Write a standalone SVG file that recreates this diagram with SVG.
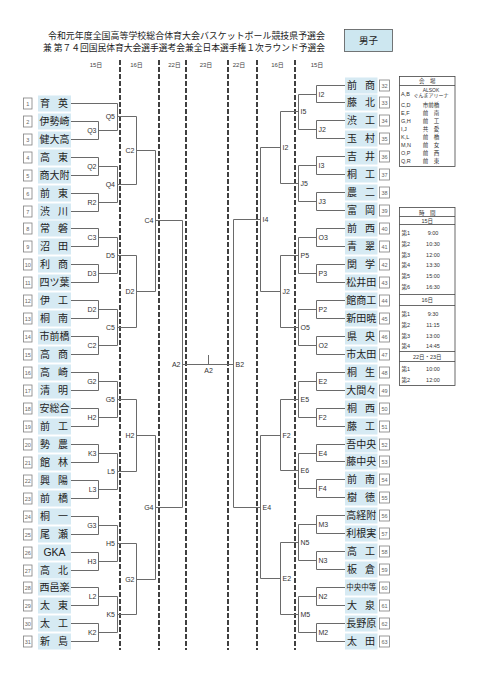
<svg xmlns="http://www.w3.org/2000/svg" width="481" height="680" viewBox="0 0 481 680">
<style>
.bg{fill:#fff}
.nb{fill:#fff;stroke:#808080;stroke-width:0.8}
.nt{font-family:"Liberation Sans",Arial,sans-serif;font-size:5.5px;fill:#666;text-anchor:middle}
.cl{fill:#d6eaf3}
.nm{font-family:"Noto Sans CJK JP","Noto Sans CJK SC",sans-serif;font-size:10px;fill:#222}
.n3{text-anchor:middle}
.ln{stroke:#6a6a6a;stroke-width:1;fill:none}
.dl{stroke:#111;stroke-width:1.6;stroke-dasharray:5 2;fill:none}
.lb{font-family:"Liberation Sans",Arial,sans-serif;font-size:7px;fill:#333}
.le{text-anchor:end}
.dt{font-family:"Liberation Sans","Noto Sans CJK JP",sans-serif;font-size:6px;fill:#444;text-anchor:middle}
.ti{font-family:"Noto Sans CJK JP","Noto Sans CJK SC",sans-serif;font-size:9px;fill:#1a1a1a}
.tb{fill:#fff;stroke:#444;stroke-width:0.8}
.tl{stroke:#444;stroke-width:0.8}
.tx{font-family:"Liberation Sans","Noto Sans CJK JP",sans-serif;font-size:5.5px;fill:#333}
.tc{text-anchor:middle}
</style>
<rect class="bg" x="0" y="0" width="481" height="680"/>

<g id="title">
<text class="ti" x="48" y="38.5" textLength="277" lengthAdjust="spacingAndGlyphs">令和元年度全国高等学校総合体育大会バスケットボール競技県予選会</text>
<text class="ti" x="43" y="51" textLength="282" lengthAdjust="spacingAndGlyphs">兼 第７４回国民体育大会選手選考会兼全日本選手権１次ラウンド予選会</text>
</g>
<g id="boys">
<rect x="344.5" y="29.5" width="48" height="22" fill="#cde7f0" stroke="#555" stroke-width="0.8"/>
<text class="nm" x="368.5" y="44" text-anchor="middle" style="font-size:9.5px">男子</text>
</g>

<g id="dates">
<text class="dt" x="96" y="67">15日</text>
<text class="dt" x="136.5" y="67">16日</text>
<text class="dt" x="174.5" y="67">22日</text>
<text class="dt" x="206" y="67">23日</text>
<text class="dt" x="239" y="67">22日</text>
<text class="dt" x="277.5" y="67">16日</text>
<text class="dt" x="317" y="67">15日</text>
</g>

<g id="day-dividers">
<path class="dl" d="M120 60V650M159 60V650M186 60V650M228 60V650M257 60V650M295 60V650"/>
</g>

<g id="connectors">
<path class="ln" d="M71 103.5H117.5M71 121.5H98.5V139.5H71M98.5 130.5H117.5M117.5 103.5V130.5M117.5 116.5H136.5M71 157.5H98.5V175.5H71M98.5 166.5H117.5M71 193.5H98.5V211.5H71M98.5 202.5H117.5M117.5 166.5V202.5M117.5 184.5H136.5M136.5 116.5V184.5M136.5 150.5H155.5"/>
<path class="ln" d="M71 228.5H98.5V246.5H71M98.5 237.5H117.5M71 264.5H98.5V282.5H71M98.5 273.5H117.5M117.5 237.5V273.5M117.5 255.5H136.5M71 300.5H98.5V318.5H71M98.5 309.5H117.5M71 336.5H98.5V354.5H71M98.5 345.5H117.5M117.5 309.5V345.5M117.5 327.5H136.5M136.5 255.5V327.5M136.5 291.5H155.5M155.5 150.5V291.5M155.5 220.5H182.5"/>
<path class="ln" d="M71 372.5H98.5V390.5H71M98.5 381.5H117.5M71 408.5H98.5V426.5H71M98.5 417.5H117.5M117.5 381.5V417.5M117.5 399.5H136.5M71 444.5H98.5V462.5H71M98.5 453.5H117.5M71 480.5H98.5V498.5H71M98.5 489.5H117.5M117.5 453.5V489.5M117.5 471.5H136.5M136.5 399.5V471.5M136.5 435.5H155.5"/>
<path class="ln" d="M71 516.5H98.5V534.5H71M98.5 525.5H117.5M71 552.5H98.5V570.5H71M98.5 561.5H117.5M117.5 525.5V561.5M117.5 543.5H136.5M71 587.5H98.5V605.5H71M98.5 596.5H117.5M71 623.5H98.5V641.5H71M98.5 632.5H117.5M117.5 596.5V632.5M117.5 614.5H136.5M136.5 543.5V614.5M136.5 579.5H155.5M155.5 435.5V579.5M155.5 507.5H182.5"/>
<path class="ln" d="M182.5 220.5V507.5M182.5 364.5H233.5M208.5 355V364.5M233.5 219.5V507.5"/>
<path class="ln" d="M345 85.5H316.5V102.5H345M316.5 94.5H298.5M345 120.5H316.5V138.5H345M316.5 129.5H298.5M298.5 94.5V129.5M298.5 111.5H280.5M345 156.5H316.5V174.5H345M316.5 165.5H298.5M345 192.5H316.5V210.5H345M316.5 201.5H298.5M298.5 165.5V201.5M298.5 183.5H280.5M280.5 111.5V183.5M280.5 147.5H260.5"/>
<path class="ln" d="M345 228.5H316.5V246.5H345M316.5 237.5H298.5M345 264.5H316.5V282.5H345M316.5 273.5H298.5M298.5 237.5V273.5M298.5 255.5H280.5M345 300.5H316.5V318.5H345M316.5 309.5H298.5M345 336.5H316.5V354.5H345M316.5 345.5H298.5M298.5 309.5V345.5M298.5 327.5H280.5M280.5 255.5V327.5M280.5 291.5H260.5M260.5 147.5V291.5M260.5 219.5H233.5"/>
<path class="ln" d="M345 372.5H316.5V390.5H345M316.5 381.5H298.5M345 408.5H316.5V426.5H345M316.5 417.5H298.5M298.5 381.5V417.5M298.5 399.5H280.5M345 444.5H316.5V461.5H345M316.5 453.5H298.5M345 479.5H316.5V497.5H345M316.5 488.5H298.5M298.5 453.5V488.5M298.5 470.5H280.5M280.5 399.5V470.5M280.5 435.5H260.5"/>
<path class="ln" d="M345 515.5H316.5V533.5H345M316.5 524.5H298.5M345 551.5H316.5V569.5H345M316.5 560.5H298.5M298.5 524.5V560.5M298.5 542.5H280.5M345 587.5H316.5V605.5H345M316.5 596.5H298.5M345 623.5H316.5V641.5H345M316.5 632.5H298.5M298.5 596.5V632.5M298.5 614.5H280.5M280.5 542.5V614.5M280.5 578.5H260.5M260.5 435.5V578.5M260.5 507.5H233.5"/>
</g>

<g id="match-labels">
<text class="lb le" x="115" y="119">Q5</text>
<text class="lb le" x="96.5" y="133">Q3</text>
<text class="lb le" x="96.5" y="169">Q2</text>
<text class="lb le" x="115" y="187">Q4</text>
<text class="lb le" x="96.5" y="205">R2</text>
<text class="lb le" x="134.5" y="153">C2</text>
<text class="lb le" x="96.5" y="240">C3</text>
<text class="lb le" x="115" y="258">D5</text>
<text class="lb le" x="96.5" y="276">D3</text>
<text class="lb le" x="134.5" y="294">D2</text>
<text class="lb le" x="96.5" y="312">D2</text>
<text class="lb le" x="115" y="330">C5</text>
<text class="lb le" x="96.5" y="348">C2</text>
<text class="lb le" x="153.5" y="223">C4</text>
<text class="lb le" x="96.5" y="384">G2</text>
<text class="lb le" x="115" y="402">G5</text>
<text class="lb le" x="96.5" y="420">H2</text>
<text class="lb le" x="134.5" y="438">H2</text>
<text class="lb le" x="96.5" y="456">K3</text>
<text class="lb le" x="115" y="474">L5</text>
<text class="lb le" x="96.5" y="492">L3</text>
<text class="lb le" x="153.5" y="510">G4</text>
<text class="lb le" x="96.5" y="528">G3</text>
<text class="lb le" x="115" y="546">H5</text>
<text class="lb le" x="96.5" y="564">H3</text>
<text class="lb le" x="134.5" y="582">G2</text>
<text class="lb le" x="96.5" y="599">L2</text>
<text class="lb le" x="115" y="617">K5</text>
<text class="lb le" x="96.5" y="635">K2</text>
<text class="lb le" x="180.5" y="367">A2</text>
<text class="lb" x="208.5" y="372.5" text-anchor="middle">A2</text>
<text class="lb" x="235.5" y="367">B2</text>
<text class="lb" x="318.5" y="97">I2</text>
<text class="lb" x="300.5" y="114">I5</text>
<text class="lb" x="318.5" y="132">J2</text>
<text class="lb" x="282.5" y="150">I2</text>
<text class="lb" x="318.5" y="168">I3</text>
<text class="lb" x="300.5" y="186">J5</text>
<text class="lb" x="318.5" y="204">J3</text>
<text class="lb" x="262.5" y="222">I4</text>
<text class="lb" x="318.5" y="240">O3</text>
<text class="lb" x="300.5" y="258">P5</text>
<text class="lb" x="318.5" y="276">P3</text>
<text class="lb" x="282.5" y="294">J2</text>
<text class="lb" x="318.5" y="312">P2</text>
<text class="lb" x="300.5" y="330">O5</text>
<text class="lb" x="318.5" y="348">O2</text>
<text class="lb" x="318.5" y="384">E2</text>
<text class="lb" x="300.5" y="402">E5</text>
<text class="lb" x="318.5" y="420">F2</text>
<text class="lb" x="282.5" y="438">F2</text>
<text class="lb" x="318.5" y="456">E4</text>
<text class="lb" x="300.5" y="473">E6</text>
<text class="lb" x="318.5" y="491">F4</text>
<text class="lb" x="262.5" y="510">E4</text>
<text class="lb" x="318.5" y="527">M3</text>
<text class="lb" x="300.5" y="545">N5</text>
<text class="lb" x="318.5" y="563">N3</text>
<text class="lb" x="282.5" y="581">E2</text>
<text class="lb" x="318.5" y="599">N2</text>
<text class="lb" x="300.5" y="617">M5</text>
<text class="lb" x="318.5" y="635">M2</text>
</g>

<g id="t1" transform="translate(0,103.5)"><rect class="nb" x="23.5" y="-5.5" width="8.5" height="11"/><text class="nt" x="27.75" y="2">1</text><rect class="cl" x="38" y="-8" width="33" height="16"/><text class="nm" x="40 58" y="3.5">育英</text></g>
<g id="t2" transform="translate(0,121.5)"><rect class="nb" x="23.5" y="-5.5" width="8.5" height="11"/><text class="nt" x="27.75" y="2">2</text><rect class="cl" x="38" y="-8" width="33" height="16"/><text class="nm n3" x="54.5" y="3.5">伊勢崎</text></g>
<g id="t3" transform="translate(0,139.5)"><rect class="nb" x="23.5" y="-5.5" width="8.5" height="11"/><text class="nt" x="27.75" y="2">3</text><rect class="cl" x="38" y="-8" width="33" height="16"/><text class="nm n3" x="54.5" y="3.5">健大高</text></g>
<g id="t4" transform="translate(0,157.5)"><rect class="nb" x="23.5" y="-5.5" width="8.5" height="11"/><text class="nt" x="27.75" y="2">4</text><rect class="cl" x="38" y="-8" width="33" height="16"/><text class="nm" x="40 58" y="3.5">高東</text></g>
<g id="t5" transform="translate(0,175.5)"><rect class="nb" x="23.5" y="-5.5" width="8.5" height="11"/><text class="nt" x="27.75" y="2">5</text><rect class="cl" x="38" y="-8" width="33" height="16"/><text class="nm n3" x="54.5" y="3.5">商大附</text></g>
<g id="t6" transform="translate(0,193.5)"><rect class="nb" x="23.5" y="-5.5" width="8.5" height="11"/><text class="nt" x="27.75" y="2">6</text><rect class="cl" x="38" y="-8" width="33" height="16"/><text class="nm" x="40 58" y="3.5">前東</text></g>
<g id="t7" transform="translate(0,211.5)"><rect class="nb" x="23.5" y="-5.5" width="8.5" height="11"/><text class="nt" x="27.75" y="2">7</text><rect class="cl" x="38" y="-8" width="33" height="16"/><text class="nm" x="40 58" y="3.5">渋川</text></g>
<g id="t8" transform="translate(0,228.5)"><rect class="nb" x="23.5" y="-5.5" width="8.5" height="11"/><text class="nt" x="27.75" y="2">8</text><rect class="cl" x="38" y="-8" width="33" height="16"/><text class="nm" x="40 58" y="3.5">常磐</text></g>
<g id="t9" transform="translate(0,246.5)"><rect class="nb" x="23.5" y="-5.5" width="8.5" height="11"/><text class="nt" x="27.75" y="2">9</text><rect class="cl" x="38" y="-8" width="33" height="16"/><text class="nm" x="40 58" y="3.5">沼田</text></g>
<g id="t10" transform="translate(0,264.5)"><rect class="nb" x="23.5" y="-5.5" width="8.5" height="11"/><text class="nt" x="27.75" y="2">10</text><rect class="cl" x="38" y="-8" width="33" height="16"/><text class="nm" x="40 58" y="3.5">利商</text></g>
<g id="t11" transform="translate(0,282.5)"><rect class="nb" x="23.5" y="-5.5" width="8.5" height="11"/><text class="nt" x="27.75" y="2">11</text><rect class="cl" x="38" y="-8" width="33" height="16"/><text class="nm n3" x="54.5" y="3.5">四ツ葉</text></g>
<g id="t12" transform="translate(0,300.5)"><rect class="nb" x="23.5" y="-5.5" width="8.5" height="11"/><text class="nt" x="27.75" y="2">12</text><rect class="cl" x="38" y="-8" width="33" height="16"/><text class="nm" x="40 58" y="3.5">伊工</text></g>
<g id="t13" transform="translate(0,318.5)"><rect class="nb" x="23.5" y="-5.5" width="8.5" height="11"/><text class="nt" x="27.75" y="2">13</text><rect class="cl" x="38" y="-8" width="33" height="16"/><text class="nm" x="40 58" y="3.5">桐南</text></g>
<g id="t14" transform="translate(0,336.5)"><rect class="nb" x="23.5" y="-5.5" width="8.5" height="11"/><text class="nt" x="27.75" y="2">14</text><rect class="cl" x="38" y="-8" width="33" height="16"/><text class="nm n3" x="54.5" y="3.5">市前橋</text></g>
<g id="t15" transform="translate(0,354.5)"><rect class="nb" x="23.5" y="-5.5" width="8.5" height="11"/><text class="nt" x="27.75" y="2">15</text><rect class="cl" x="38" y="-8" width="33" height="16"/><text class="nm" x="40 58" y="3.5">高商</text></g>
<g id="t16" transform="translate(0,372.5)"><rect class="nb" x="23.5" y="-5.5" width="8.5" height="11"/><text class="nt" x="27.75" y="2">16</text><rect class="cl" x="38" y="-8" width="33" height="16"/><text class="nm" x="40 58" y="3.5">高崎</text></g>
<g id="t17" transform="translate(0,390.5)"><rect class="nb" x="23.5" y="-5.5" width="8.5" height="11"/><text class="nt" x="27.75" y="2">17</text><rect class="cl" x="38" y="-8" width="33" height="16"/><text class="nm" x="40 58" y="3.5">清明</text></g>
<g id="t18" transform="translate(0,408.5)"><rect class="nb" x="23.5" y="-5.5" width="8.5" height="11"/><text class="nt" x="27.75" y="2">18</text><rect class="cl" x="38" y="-8" width="33" height="16"/><text class="nm n3" x="54.5" y="3.5">安総合</text></g>
<g id="t19" transform="translate(0,426.5)"><rect class="nb" x="23.5" y="-5.5" width="8.5" height="11"/><text class="nt" x="27.75" y="2">19</text><rect class="cl" x="38" y="-8" width="33" height="16"/><text class="nm" x="40 58" y="3.5">前工</text></g>
<g id="t20" transform="translate(0,444.5)"><rect class="nb" x="23.5" y="-5.5" width="8.5" height="11"/><text class="nt" x="27.75" y="2">20</text><rect class="cl" x="38" y="-8" width="33" height="16"/><text class="nm" x="40 58" y="3.5">勢農</text></g>
<g id="t21" transform="translate(0,462.5)"><rect class="nb" x="23.5" y="-5.5" width="8.5" height="11"/><text class="nt" x="27.75" y="2">21</text><rect class="cl" x="38" y="-8" width="33" height="16"/><text class="nm" x="40 58" y="3.5">館林</text></g>
<g id="t22" transform="translate(0,480.5)"><rect class="nb" x="23.5" y="-5.5" width="8.5" height="11"/><text class="nt" x="27.75" y="2">22</text><rect class="cl" x="38" y="-8" width="33" height="16"/><text class="nm" x="40 58" y="3.5">興陽</text></g>
<g id="t23" transform="translate(0,498.5)"><rect class="nb" x="23.5" y="-5.5" width="8.5" height="11"/><text class="nt" x="27.75" y="2">23</text><rect class="cl" x="38" y="-8" width="33" height="16"/><text class="nm" x="40 58" y="3.5">前橋</text></g>
<g id="t24" transform="translate(0,516.5)"><rect class="nb" x="23.5" y="-5.5" width="8.5" height="11"/><text class="nt" x="27.75" y="2">24</text><rect class="cl" x="38" y="-8" width="33" height="16"/><text class="nm" x="40 58" y="3.5">桐一</text></g>
<g id="t25" transform="translate(0,534.5)"><rect class="nb" x="23.5" y="-5.5" width="8.5" height="11"/><text class="nt" x="27.75" y="2">25</text><rect class="cl" x="38" y="-8" width="33" height="16"/><text class="nm" x="40 58" y="3.5">尾瀬</text></g>
<g id="t26" transform="translate(0,552.5)"><rect class="nb" x="23.5" y="-5.5" width="8.5" height="11"/><text class="nt" x="27.75" y="2">26</text><rect class="cl" x="38" y="-8" width="33" height="16"/><text class="nm n3" x="54.5" y="3.8" style="font-family:'Liberation Sans',Arial,sans-serif;font-size:10.5px">GKA</text></g>
<g id="t27" transform="translate(0,570.5)"><rect class="nb" x="23.5" y="-5.5" width="8.5" height="11"/><text class="nt" x="27.75" y="2">27</text><rect class="cl" x="38" y="-8" width="33" height="16"/><text class="nm" x="40 58" y="3.5">高北</text></g>
<g id="t28" transform="translate(0,587.5)"><rect class="nb" x="23.5" y="-5.5" width="8.5" height="11"/><text class="nt" x="27.75" y="2">28</text><rect class="cl" x="38" y="-8" width="33" height="16"/><text class="nm n3" x="54.5" y="3.5">西邑楽</text></g>
<g id="t29" transform="translate(0,605.5)"><rect class="nb" x="23.5" y="-5.5" width="8.5" height="11"/><text class="nt" x="27.75" y="2">29</text><rect class="cl" x="38" y="-8" width="33" height="16"/><text class="nm" x="40 58" y="3.5">太東</text></g>
<g id="t30" transform="translate(0,623.5)"><rect class="nb" x="23.5" y="-5.5" width="8.5" height="11"/><text class="nt" x="27.75" y="2">30</text><rect class="cl" x="38" y="-8" width="33" height="16"/><text class="nm" x="40 58" y="3.5">太工</text></g>
<g id="t31" transform="translate(0,641.5)"><rect class="nb" x="23.5" y="-5.5" width="8.5" height="11"/><text class="nt" x="27.75" y="2">31</text><rect class="cl" x="38" y="-8" width="33" height="16"/><text class="nm" x="40 58" y="3.5">新島</text></g>

<g id="t32" transform="translate(0,85.5)"><rect class="cl" x="345" y="-8" width="32.5" height="16"/><text class="nm" x="347 365" y="3.5">前商</text><rect class="nb" x="379.5" y="-5.5" width="10" height="11"/><text class="nt" x="384.5" y="2">32</text></g>
<g id="t33" transform="translate(0,102.5)"><rect class="cl" x="345" y="-8" width="32.5" height="16"/><text class="nm" x="347 365" y="3.5">藤北</text><rect class="nb" x="379.5" y="-5.5" width="10" height="11"/><text class="nt" x="384.5" y="2">33</text></g>
<g id="t34" transform="translate(0,120.5)"><rect class="cl" x="345" y="-8" width="32.5" height="16"/><text class="nm" x="347 365" y="3.5">渋工</text><rect class="nb" x="379.5" y="-5.5" width="10" height="11"/><text class="nt" x="384.5" y="2">34</text></g>
<g id="t35" transform="translate(0,138.5)"><rect class="cl" x="345" y="-8" width="32.5" height="16"/><text class="nm" x="347 365" y="3.5">玉村</text><rect class="nb" x="379.5" y="-5.5" width="10" height="11"/><text class="nt" x="384.5" y="2">35</text></g>
<g id="t36" transform="translate(0,156.5)"><rect class="cl" x="345" y="-8" width="32.5" height="16"/><text class="nm" x="347 365" y="3.5">吉井</text><rect class="nb" x="379.5" y="-5.5" width="10" height="11"/><text class="nt" x="384.5" y="2">36</text></g>
<g id="t37" transform="translate(0,174.5)"><rect class="cl" x="345" y="-8" width="32.5" height="16"/><text class="nm" x="347 365" y="3.5">桐工</text><rect class="nb" x="379.5" y="-5.5" width="10" height="11"/><text class="nt" x="384.5" y="2">37</text></g>
<g id="t38" transform="translate(0,192.5)"><rect class="cl" x="345" y="-8" width="32.5" height="16"/><text class="nm" x="347 365" y="3.5">農二</text><rect class="nb" x="379.5" y="-5.5" width="10" height="11"/><text class="nt" x="384.5" y="2">38</text></g>
<g id="t39" transform="translate(0,210.5)"><rect class="cl" x="345" y="-8" width="32.5" height="16"/><text class="nm" x="347 365" y="3.5">富岡</text><rect class="nb" x="379.5" y="-5.5" width="10" height="11"/><text class="nt" x="384.5" y="2">39</text></g>
<g id="t40" transform="translate(0,228.5)"><rect class="cl" x="345" y="-8" width="32.5" height="16"/><text class="nm" x="347 365" y="3.5">前西</text><rect class="nb" x="379.5" y="-5.5" width="10" height="11"/><text class="nt" x="384.5" y="2">40</text></g>
<g id="t41" transform="translate(0,246.5)"><rect class="cl" x="345" y="-8" width="32.5" height="16"/><text class="nm" x="347 365" y="3.5">青翠</text><rect class="nb" x="379.5" y="-5.5" width="10" height="11"/><text class="nt" x="384.5" y="2">41</text></g>
<g id="t42" transform="translate(0,264.5)"><rect class="cl" x="345" y="-8" width="32.5" height="16"/><text class="nm" x="347 365" y="3.5">関学</text><rect class="nb" x="379.5" y="-5.5" width="10" height="11"/><text class="nt" x="384.5" y="2">42</text></g>
<g id="t43" transform="translate(0,282.5)"><rect class="cl" x="345" y="-8" width="32.5" height="16"/><text class="nm n3" x="361.25" y="3.5">松井田</text><rect class="nb" x="379.5" y="-5.5" width="10" height="11"/><text class="nt" x="384.5" y="2">43</text></g>
<g id="t44" transform="translate(0,300.5)"><rect class="cl" x="345" y="-8" width="32.5" height="16"/><text class="nm n3" x="361.25" y="3.5">館商工</text><rect class="nb" x="379.5" y="-5.5" width="10" height="11"/><text class="nt" x="384.5" y="2">44</text></g>
<g id="t45" transform="translate(0,318.5)"><rect class="cl" x="345" y="-8" width="32.5" height="16"/><text class="nm n3" x="361.25" y="3.5">新田暁</text><rect class="nb" x="379.5" y="-5.5" width="10" height="11"/><text class="nt" x="384.5" y="2">45</text></g>
<g id="t46" transform="translate(0,336.5)"><rect class="cl" x="345" y="-8" width="32.5" height="16"/><text class="nm" x="347 365" y="3.5">県央</text><rect class="nb" x="379.5" y="-5.5" width="10" height="11"/><text class="nt" x="384.5" y="2">46</text></g>
<g id="t47" transform="translate(0,354.5)"><rect class="cl" x="345" y="-8" width="32.5" height="16"/><text class="nm n3" x="361.25" y="3.5">市太田</text><rect class="nb" x="379.5" y="-5.5" width="10" height="11"/><text class="nt" x="384.5" y="2">47</text></g>
<g id="t48" transform="translate(0,372.5)"><rect class="cl" x="345" y="-8" width="32.5" height="16"/><text class="nm" x="347 365" y="3.5">桐生</text><rect class="nb" x="379.5" y="-5.5" width="10" height="11"/><text class="nt" x="384.5" y="2">48</text></g>
<g id="t49" transform="translate(0,390.5)"><rect class="cl" x="345" y="-8" width="32.5" height="16"/><text class="nm n3" x="361.25" y="3.5">大間々</text><rect class="nb" x="379.5" y="-5.5" width="10" height="11"/><text class="nt" x="384.5" y="2">49</text></g>
<g id="t50" transform="translate(0,408.5)"><rect class="cl" x="345" y="-8" width="32.5" height="16"/><text class="nm" x="347 365" y="3.5">桐西</text><rect class="nb" x="379.5" y="-5.5" width="10" height="11"/><text class="nt" x="384.5" y="2">50</text></g>
<g id="t51" transform="translate(0,426.5)"><rect class="cl" x="345" y="-8" width="32.5" height="16"/><text class="nm" x="347 365" y="3.5">藤工</text><rect class="nb" x="379.5" y="-5.5" width="10" height="11"/><text class="nt" x="384.5" y="2">51</text></g>
<g id="t52" transform="translate(0,444.5)"><rect class="cl" x="345" y="-8" width="32.5" height="16"/><text class="nm n3" x="361.25" y="3.5">吾中央</text><rect class="nb" x="379.5" y="-5.5" width="10" height="11"/><text class="nt" x="384.5" y="2">52</text></g>
<g id="t53" transform="translate(0,461.5)"><rect class="cl" x="345" y="-8" width="32.5" height="16"/><text class="nm n3" x="361.25" y="3.5">藤中央</text><rect class="nb" x="379.5" y="-5.5" width="10" height="11"/><text class="nt" x="384.5" y="2">53</text></g>
<g id="t54" transform="translate(0,479.5)"><rect class="cl" x="345" y="-8" width="32.5" height="16"/><text class="nm" x="347 365" y="3.5">前南</text><rect class="nb" x="379.5" y="-5.5" width="10" height="11"/><text class="nt" x="384.5" y="2">54</text></g>
<g id="t55" transform="translate(0,497.5)"><rect class="cl" x="345" y="-8" width="32.5" height="16"/><text class="nm" x="347 365" y="3.5">樹徳</text><rect class="nb" x="379.5" y="-5.5" width="10" height="11"/><text class="nt" x="384.5" y="2">55</text></g>
<g id="t56" transform="translate(0,515.5)"><rect class="cl" x="345" y="-8" width="32.5" height="16"/><text class="nm n3" x="361.25" y="3.5">高経附</text><rect class="nb" x="379.5" y="-5.5" width="10" height="11"/><text class="nt" x="384.5" y="2">56</text></g>
<g id="t57" transform="translate(0,533.5)"><rect class="cl" x="345" y="-8" width="32.5" height="16"/><text class="nm n3" x="361.25" y="3.5">利根実</text><rect class="nb" x="379.5" y="-5.5" width="10" height="11"/><text class="nt" x="384.5" y="2">57</text></g>
<g id="t58" transform="translate(0,551.5)"><rect class="cl" x="345" y="-8" width="32.5" height="16"/><text class="nm" x="347 365" y="3.5">高工</text><rect class="nb" x="379.5" y="-5.5" width="10" height="11"/><text class="nt" x="384.5" y="2">58</text></g>
<g id="t59" transform="translate(0,569.5)"><rect class="cl" x="345" y="-8" width="32.5" height="16"/><text class="nm" x="347 365" y="3.5">板倉</text><rect class="nb" x="379.5" y="-5.5" width="10" height="11"/><text class="nt" x="384.5" y="2">59</text></g>
<g id="t60" transform="translate(0,587.5)"><rect class="cl" x="345" y="-8" width="32.5" height="16"/><text class="nm n3" x="361.25" y="2.8" style="font-size:7.5px">中央中等</text><rect class="nb" x="379.5" y="-5.5" width="10" height="11"/><text class="nt" x="384.5" y="2">60</text></g>
<g id="t61" transform="translate(0,605.5)"><rect class="cl" x="345" y="-8" width="32.5" height="16"/><text class="nm" x="347 365" y="3.5">大泉</text><rect class="nb" x="379.5" y="-5.5" width="10" height="11"/><text class="nt" x="384.5" y="2">61</text></g>
<g id="t62" transform="translate(0,623.5)"><rect class="cl" x="345" y="-8" width="32.5" height="16"/><text class="nm n3" x="361.25" y="3.5">長野原</text><rect class="nb" x="379.5" y="-5.5" width="10" height="11"/><text class="nt" x="384.5" y="2">62</text></g>
<g id="t63" transform="translate(0,641.5)"><rect class="cl" x="345" y="-8" width="32.5" height="16"/><text class="nm" x="347 365" y="3.5">太田</text><rect class="nb" x="379.5" y="-5.5" width="10" height="11"/><text class="nt" x="384.5" y="2">63</text></g>

<g id="venues">
<rect class="tb" x="399.5" y="76.5" width="55.5" height="90"/>
<line class="tl" x1="399.5" y1="85.5" x2="455" y2="85.5"/>
<text class="tx tc" x="427.25" y="83">会　場</text>
<text class="tx" x="401" y="96">A,B</text>
<text class="tx tc" x="431" y="91.5" style="font-size:5px">ALSOK</text>
<text class="tx tc" x="431" y="97" style="font-size:5px">ぐんまアリーナ</text>
<text class="tx" x="401" y="107">C,D</text><text class="tx tc" x="431" y="107">市前橋</text>
<text class="tx" x="401" y="115">E,F</text><text class="tx tc" x="431" y="115">前　南</text>
<text class="tx" x="401" y="123">G,H</text><text class="tx tc" x="431" y="123">前　工</text>
<text class="tx" x="401" y="131">I,J</text><text class="tx tc" x="431" y="131">共　愛</text>
<text class="tx" x="401" y="139">K,L</text><text class="tx tc" x="431" y="139">前　橋</text>
<text class="tx" x="401" y="147">M,N</text><text class="tx tc" x="431" y="147">前　女</text>
<text class="tx" x="401" y="155">O,P</text><text class="tx tc" x="431" y="155">前　西</text>
<text class="tx" x="401" y="163">Q,R</text><text class="tx tc" x="431" y="163">前　東</text>
</g>

<g id="times">
<rect class="tb" x="399.5" y="207.5" width="55.5" height="178"/>
<line class="tl" x1="399.5" y1="216.5" x2="455" y2="216.5"/>
<line class="tl" x1="399.5" y1="224.5" x2="455" y2="224.5"/>
<line class="tl" x1="399.5" y1="294.5" x2="455" y2="294.5"/>
<line class="tl" x1="399.5" y1="305.5" x2="455" y2="305.5"/>
<line class="tl" x1="399.5" y1="351.5" x2="455" y2="351.5"/>
<line class="tl" x1="399.5" y1="361.5" x2="455" y2="361.5"/>
<text class="tx tc" x="427.25" y="214.5">時　間</text>
<text class="tx tc" x="427.25" y="222.5">15日</text>
<text class="tx" x="401.5" y="234.7">第1</text><text class="tx tc" x="433" y="234.7">9:00</text>
<text class="tx" x="401.5" y="245.7">第2</text><text class="tx tc" x="433" y="245.7">10:30</text>
<text class="tx" x="401.5" y="256.5">第3</text><text class="tx tc" x="433" y="256.5">12:00</text>
<text class="tx" x="401.5" y="267.3">第4</text><text class="tx tc" x="433" y="267.3">13:30</text>
<text class="tx" x="401.5" y="278">第5</text><text class="tx tc" x="433" y="278">15:00</text>
<text class="tx" x="401.5" y="289">第6</text><text class="tx tc" x="433" y="289">16:30</text>
<text class="tx tc" x="427.25" y="302">16日</text>
<text class="tx" x="401.5" y="316.3">第1</text><text class="tx tc" x="433" y="316.3">9:30</text>
<text class="tx" x="401.5" y="327">第2</text><text class="tx tc" x="433" y="327">11:15</text>
<text class="tx" x="401.5" y="337.7">第3</text><text class="tx tc" x="433" y="337.7">13:00</text>
<text class="tx" x="401.5" y="348.3">第4</text><text class="tx tc" x="433" y="348.3">14:45</text>
<text class="tx tc" x="427.25" y="358.7">22日・23日</text>
<text class="tx" x="401.5" y="370.7">第1</text><text class="tx tc" x="433" y="370.7">10:00</text>
<text class="tx" x="401.5" y="381.7">第2</text><text class="tx tc" x="433" y="381.7">12:00</text>
</g>
</svg>
